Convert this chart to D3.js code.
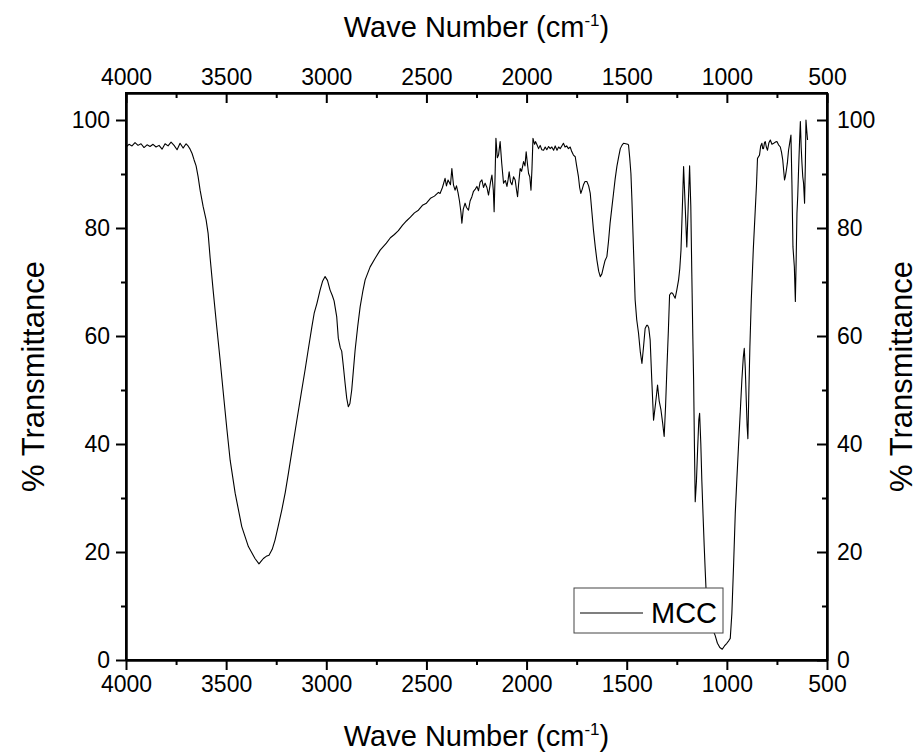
<!DOCTYPE html>
<html>
<head>
<meta charset="utf-8">
<script src="https://cdn.jsdelivr.net/npm/d3@7"></script>
<style>
  body { margin: 0; background: #fff; }
  svg text { font-family: "Liberation Sans", Arial, sans-serif; fill: #000; }
  .axis path, .axis line { stroke: #000; stroke-width: 2; }
</style>
</head>
<body>
<div id="chart"></div>
<script>
// FTIR spectrum of MCC
var waveNumber = [
  4000, 3985, 3970, 3955, 3940, 3925, 3910, 3895, 3880, 3865, 3850, 3835, 3820, 3805, 3790, 3775, 3760, 3745, 3730, 3715,
  3700, 3690, 3680, 3670, 3660, 3650, 3640, 3630, 3615, 3600, 3590, 3580, 3565, 3547, 3530, 3514, 3497, 3480, 3455, 3422,
  3389, 3356, 3336, 3325, 3314, 3300, 3286, 3270, 3256, 3240, 3222, 3205, 3189, 3168, 3147, 3126, 3106, 3090, 3072, 3060,
  3047, 3031, 3018, 3006, 2994, 2981, 2970, 2961, 2948, 2940, 2930, 2923, 2915, 2906, 2898, 2890, 2882, 2873, 2865, 2856,
  2843, 2831, 2818, 2806, 2781, 2756, 2731, 2700, 2680, 2660, 2640, 2620, 2600, 2580, 2560, 2540, 2520, 2500, 2480, 2460,
  2440, 2432, 2420, 2407, 2400, 2392, 2380, 2373, 2365, 2357, 2350, 2342, 2335, 2328, 2323, 2316, 2307, 2300, 2290, 2282,
  2273, 2265, 2256, 2248, 2240, 2232, 2223, 2215, 2207, 2198, 2190, 2180, 2173, 2166, 2162, 2157, 2153, 2146, 2140, 2132,
  2124, 2115, 2106, 2098, 2092, 2087, 2080, 2073, 2065, 2057, 2050, 2045, 2040, 2032, 2025, 2015, 2008, 2002, 1996, 1990,
  1984, 1978, 1973, 1968, 1960, 1955, 1948, 1940, 1932, 1924, 1915, 1907, 1899, 1890, 1882, 1874, 1865, 1857, 1848, 1840,
  1832, 1824, 1816, 1808, 1800, 1791, 1782, 1775, 1766, 1757, 1750, 1741, 1735, 1729, 1722, 1716, 1708, 1699, 1690, 1682,
  1674, 1666, 1657, 1649, 1640, 1632, 1624, 1616, 1608, 1599, 1591, 1583, 1575, 1566, 1558, 1549, 1540, 1532, 1524, 1516,
  1505, 1495, 1491, 1485, 1479, 1474, 1466, 1458, 1450, 1441, 1432, 1424, 1416, 1408, 1400, 1396, 1390, 1383, 1375, 1366,
  1356, 1346, 1338, 1329, 1321, 1313, 1306, 1299, 1292, 1286, 1278, 1271, 1264, 1258, 1250, 1241, 1235, 1229, 1221, 1216,
  1208, 1200, 1193, 1186, 1180, 1175, 1170, 1166, 1162, 1158, 1152, 1146, 1140, 1136, 1130, 1125, 1119, 1113, 1108, 1103,
  1090, 1075, 1059, 1047, 1035, 1023, 1012, 1000, 990, 983, 975, 966, 958, 950, 942, 933, 925, 918, 913, 908,
  903, 899, 895, 890, 885, 878, 868, 858, 852, 847, 842, 837, 831, 825, 821, 817, 812, 808, 803, 797,
  790, 783, 775, 766, 758, 750, 742, 733, 727, 721, 716, 712, 708, 703, 698, 692, 686, 680, 675, 670,
  663, 658, 654, 650, 646, 642, 637, 633, 629, 625, 621, 617, 612, 608, 605, 601, 597
];
var transmittance = [
  95.0, 95.5, 95.2, 95.8, 95.3, 95.6, 94.9, 95.4, 95.1, 95.5, 95.0, 95.3, 94.6, 95.6, 95.2, 95.9, 95.3, 94.5, 95.7, 94.8,
  95.6, 95.2, 94.6, 93.8, 92.6, 91.5, 89.5, 87.0, 84.0, 81.5, 79.0, 74.5, 68.5, 61.7, 55.5, 49.4, 43.0, 37.0, 30.9, 24.7,
  21.0, 18.8, 17.8, 18.3, 18.8, 19.2, 19.4, 20.5, 22.2, 24.8, 27.8, 31.0, 34.6, 39.5, 44.4, 49.2, 53.7, 57.5, 61.7, 64.3,
  66.0, 68.5, 70.2, 71.0, 70.3, 68.5, 67.5, 66.5, 63.6, 59.6, 57.8, 57.2, 54.5, 51.2, 48.5, 46.9, 47.5, 50.0, 53.5, 57.4,
  61.8, 65.4, 68.2, 70.4, 72.8, 74.4, 75.9, 77.2, 78.2, 78.8, 79.5, 80.5, 81.3, 82.0, 82.8, 83.3, 84.2, 84.6, 85.5, 85.9,
  86.6, 86.4, 87.5, 89.2, 87.8, 88.9, 88.0, 91.0, 88.0, 87.0, 87.8, 86.5, 85.0, 83.0, 80.9, 83.5, 84.6, 83.8, 83.3, 85.0,
  85.8, 86.8, 87.2, 87.7, 86.9, 88.5, 88.9, 87.5, 88.3, 87.5, 86.1, 88.5, 89.8, 87.0, 83.0, 90.0, 96.6, 93.0, 93.5, 96.0,
  92.0, 88.3, 88.8, 87.7, 89.0, 90.4, 88.5, 88.0, 89.5, 88.9, 87.0, 85.8, 88.0, 91.0, 90.5, 92.3, 91.5, 94.1, 92.0, 90.1,
  89.5, 87.0, 91.0, 96.6, 95.5, 96.0, 95.4, 94.7, 95.3, 94.5, 94.4, 95.0, 94.5, 95.1, 94.7, 95.0, 94.4, 95.2, 94.4, 95.0,
  94.7, 95.2, 95.7, 95.0, 95.2, 94.7, 95.0, 94.2, 93.5, 93.2, 91.5, 89.5, 87.5, 86.4, 87.2, 88.0, 88.6, 88.6, 87.8, 86.4,
  83.0, 79.6, 76.5, 74.1, 72.0, 71.0, 71.5, 72.8, 74.0, 74.7, 77.5, 80.9, 83.5, 86.4, 89.0, 91.4, 93.2, 94.7, 95.3, 95.7,
  95.6, 95.5, 95.4, 93.0, 90.1, 85.2, 75.9, 66.7, 63.0, 60.5, 57.0, 54.9, 58.0, 61.4, 62.0, 62.0, 61.5, 59.3, 52.0, 44.4,
  47.5, 50.9, 48.0, 46.3, 44.0, 41.4, 47.0, 54.3, 61.0, 67.6, 68.0, 67.9, 67.4, 67.0, 68.5, 70.4, 72.5, 75.9, 85.2, 91.4,
  84.0, 76.5, 84.0, 91.5, 84.0, 71.6, 60.0, 51.9, 40.0, 29.3, 33.0, 39.0, 44.5, 45.7, 40.0, 33.3, 27.0, 21.0, 16.5, 12.3,
  8.0, 6.0, 4.6, 3.1, 2.3, 2.0, 2.6, 3.1, 3.6, 4.0, 8.6, 18.0, 27.2, 33.5, 39.5, 46.0, 51.9, 56.0, 57.7, 54.0,
  48.0, 43.5, 41.0, 50.0, 58.0, 66.7, 76.0, 83.5, 88.0, 92.9, 93.2, 93.5, 95.2, 95.7, 94.7, 94.7, 95.8, 96.0, 95.0, 94.4,
  95.8, 96.3, 95.5, 95.7, 95.9, 96.0, 95.4, 95.0, 94.0, 92.6, 90.5, 88.9, 89.5, 90.7, 92.0, 94.4, 95.8, 97.2, 88.0, 76.5,
  72.8, 66.4, 74.0, 82.7, 86.0, 90.7, 96.0, 99.7, 95.0, 92.0, 89.5, 88.3, 84.6, 92.0, 100.0, 98.0, 96.3
];

var xTicks = [4000, 3500, 3000, 2500, 2000, 1500, 1000, 500];
var xMinorTicks = [3750, 3250, 2750, 2250, 1750, 1250, 750];
var yTicks = [0, 20, 40, 60, 80, 100];
var yMinorTicks = [10, 30, 50, 70, 90];
var seriesName = 'MCC';

(function (d3) {
  'use strict';

  var width = 918, height = 756;
  var margin = { top: 93, right: 91, bottom: 96, left: 126 };
  var w = width - margin.left - margin.right;
  var h = height - margin.top - margin.bottom;

  var svg = d3.select('#chart').append('svg')
    .attr('width', width)
    .attr('height', height);

  var g = svg.append('g')
    .attr('transform', 'translate(' + margin.left + ',' + margin.top + ')');

  var x = d3.scaleLinear().domain([4000, 500]).range([0, w]);
  var y = d3.scaleLinear().domain([0, 105]).range([h, 0]);

  var fs = 23;

  var drawAxis = function (axisFn, scale, ticks, size, transform, labels) {
    var a = axisFn(scale).tickValues(ticks).tickSizeInner(size).tickSizeOuter(0).tickPadding(6)
      .tickFormat(labels ? d3.format('d') : '');
    var sel = g.append('g').attr('class', 'axis').attr('transform', transform).call(a);
    sel.selectAll('text').style('font-size', fs + 'px');
    return sel;
  };

  // bottom & left: outward ticks
  drawAxis(d3.axisBottom, x, xMinorTicks, 5, 'translate(0,' + h + ')', false);
  drawAxis(d3.axisBottom, x, xTicks, 10, 'translate(0,' + h + ')', true);
  drawAxis(d3.axisLeft, y, yMinorTicks, 5, null, false);
  drawAxis(d3.axisLeft, y, yTicks, 10, null, true);

  // top & right: inward ticks, labels outside
  drawAxis(d3.axisTop, x, xMinorTicks, -5, null, false);
  var top2 = drawAxis(d3.axisTop, x, xTicks, -10, null, true);
  top2.selectAll('text').attr('y', -8);
  drawAxis(d3.axisRight, y, yMinorTicks, -5, 'translate(' + w + ',0)', false);
  var right2 = drawAxis(d3.axisRight, y, yTicks, -10, 'translate(' + w + ',0)', true);
  right2.selectAll('text').attr('x', 10);

  // frame
  g.append('rect')
    .attr('width', w).attr('height', h)
    .attr('fill', 'none')
    .attr('stroke', '#000')
    .attr('stroke-width', 2);

  // spectrum
  var data = waveNumber.map(function (d, i) { return [d, transmittance[i]]; });
  var line = d3.line()
    .x(function (d) { return x(d[0]); })
    .y(function (d) { return y(d[1]); });

  g.append('path')
    .datum(data)
    .attr('d', line)
    .attr('fill', 'none')
    .attr('stroke', '#000')
    .attr('stroke-width', 1.1)
    .attr('stroke-linejoin', 'round');

  // axis titles
  var title = function (sel) {
    sel.append('tspan').text('Wave Number (cm');
    sel.append('tspan').attr('dy', -11).style('font-size', '17px').text('-1');
    sel.append('tspan').attr('dy', 11).text(')');
  };
  svg.append('text')
    .attr('x', margin.left + w / 2).attr('y', 746)
    .attr('text-anchor', 'middle').style('font-size', '29px')
    .call(title);
  svg.append('text')
    .attr('x', margin.left + w / 2).attr('y', 37)
    .attr('text-anchor', 'middle').style('font-size', '29px')
    .call(title);

  svg.append('text')
    .attr('transform', 'translate(44,' + (margin.top + h / 2) + ') rotate(-90)')
    .attr('text-anchor', 'middle').style('font-size', '31px')
    .text('% Transmittance');
  svg.append('text')
    .attr('transform', 'translate(912,' + (margin.top + h / 2) + ') rotate(-90)')
    .attr('text-anchor', 'middle').style('font-size', '31px')
    .text('% Transmittance');

  // legend
  var lg = svg.append('g').attr('transform', 'translate(574,588)');
  lg.append('rect')
    .attr('width', 149).attr('height', 45)
    .attr('fill', '#fff')
    .attr('stroke', '#444')
    .attr('stroke-width', 1);
  lg.append('line')
    .attr('x1', 6).attr('x2', 69)
    .attr('y1', 25).attr('y2', 25)
    .attr('stroke', '#000').attr('stroke-width', 1.1);
  lg.append('text')
    .attr('x', 77).attr('y', 35)
    .style('font-size', '29px')
    .text(seriesName);

})(window.d3);
</script>
</body>
</html>
